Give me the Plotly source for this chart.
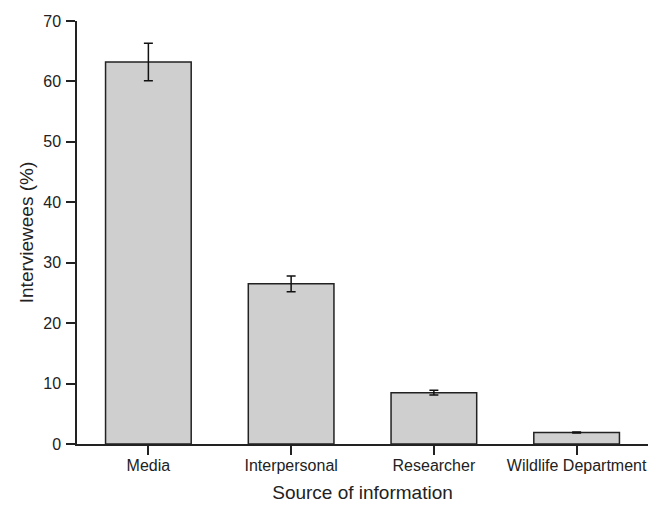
import plotly.graph_objects as go

categories = ["Media", "Interpersonal", "Researcher", "Wildlife Department"]
values = [63.2, 26.5, 8.5, 1.9]
errors = [3.1, 1.3, 0.4, 0.1]
y_ticks = [0, 10, 20, 30, 40, 50, 60, 70]

fig = go.Figure(go.Bar(
    x=categories, y=values, width=0.6,
    marker=dict(color="#cfcfcf", line=dict(color="#222222", width=1.5)),
    error_y=dict(type="data", array=errors, visible=True, color="#111111", thickness=1.5, width=4.5),
))

fig.update_layout(
    width=652, height=497,
    margin=dict(l=69, r=12, t=13, b=61),
    plot_bgcolor="white", paper_bgcolor="white",
    font=dict(family="Liberation Sans, Arial, sans-serif", size=16, color="#222222"),
    showlegend=False,
)
fig.update_xaxes(
    range=[-0.5, 3.5], showline=True, linecolor="#222222", linewidth=1.5,
    ticks="outside", ticklen=9, tickcolor="#222222", tickwidth=1.5,
    ticklabelstandoff=-3,
    showgrid=False, zeroline=False, automargin=False,
    title=dict(text="Source of information", font=dict(size=19), standoff=13),
)
fig.update_yaxes(
    range=[0, 70], tickvals=y_ticks, showline=True, linecolor="#222222", linewidth=1.5,
    ticks="outside", ticklen=9, tickcolor="#222222", tickwidth=1.5,
    ticklabelstandoff=2,
    showgrid=False, zeroline=False, automargin=False,
    title=dict(text="Interviewees (%)", font=dict(size=19), standoff=5),
)

fig.write_html("out.html")
